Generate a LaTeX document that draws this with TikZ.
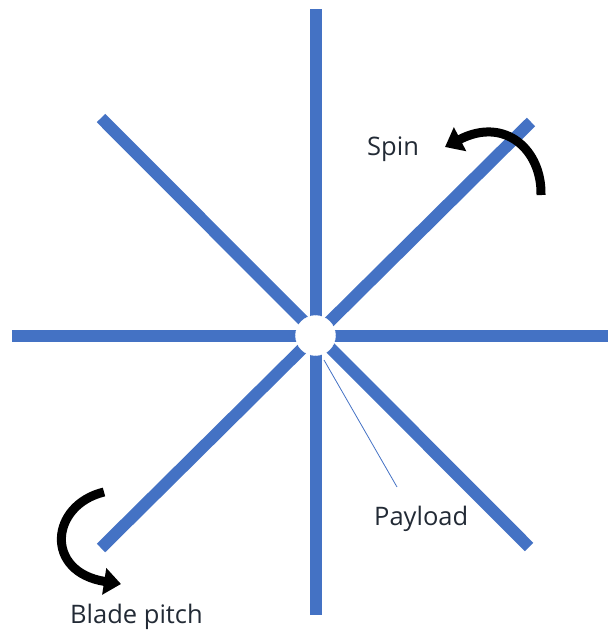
\documentclass[tikz,border=0pt]{standalone}
\usepackage{fontspec}
\setmainfont{Open Sans}
\usetikzlibrary{arrows.meta}
\definecolor{bladeblue}{HTML}{4472C4}
\definecolor{txt}{HTML}{222A35}
\tikzset{
  blade/.style={draw=bladeblue, line width=12pt, line cap=butt},
  hub/.style={circle, fill=white, draw=white, minimum size=40pt, inner sep=0pt},
  turn/.style={draw=black, line width=9pt, -{Triangle[length=17pt,width=26pt]}},
  lbl/.style={font=\fontsize{25.5}{30}\selectfont, text=txt, inner sep=0pt, anchor=base west},
  leader/.style={draw=bladeblue, line width=0.8pt}
}
\begin{document}
\begin{tikzpicture}[x=1pt,y=-1pt]
\useasboundingbox (0,0) rectangle (608,635);
\coordinate (c) at (315.5,335.5);
\coordinate (n) at (315.5,9);
\coordinate (s) at (315.5,615);
\coordinate (w) at (12,335.5);
\coordinate (e) at (612,335.5);
\coordinate (nw) at (101,118);
\coordinate (se) at (529,547);
\coordinate (ne) at (531,122);
\coordinate (sw) at (101,548);
\draw[blade] (n) -- (s);
\draw[blade] (w) -- (e);
\draw[blade] (nw) -- (se);
\draw[blade] (ne) -- (sw);
\node[hub] (hubc) at (c) {};
\coordinate (pl1) at (324,360);
\coordinate (pl2) at (397,487);
\draw[leader] (pl1) -- (pl2);
\node[lbl] (payload) at (374,525) {Payload};
\node[lbl] (spin) at (367,155) {Spin};
\node[lbl] (pitch) at (70,623) {Blade pitch};
\coordinate (sa) at (541,195);
\coordinate (sb) at (445,147);
\draw[turn] (sa) .. controls (542,150) and (505,116) .. (sb);
\coordinate (pa) at (104,492);
\coordinate (pb) at (121,584);
\draw[turn] (pa) .. controls (50,505) and (44,572) .. (pb);
\end{tikzpicture}
\end{document}
